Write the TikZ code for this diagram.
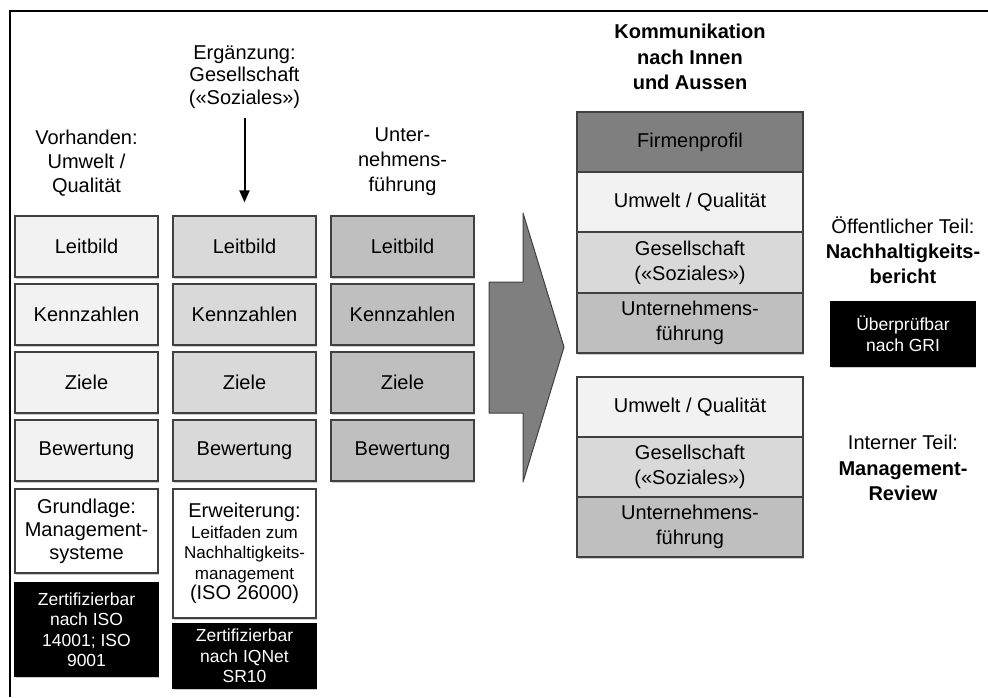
\documentclass[tikz,border=0pt]{standalone}
\usepackage{fontspec}
\setmainfont{Liberation Sans}
\usetikzlibrary{arrows.meta,shadows}

\definecolor{paleGray}{HTML}{F2F2F2}
\definecolor{midGray}{HTML}{D9D9D9}
\definecolor{darkGray}{HTML}{BFBFBF}
\definecolor{profGray}{HTML}{7F7F7F}
\definecolor{lineGray}{HTML}{404040}

\tikzset{
	box/.style={draw=lineGray, line width=1.2pt, minimum width=143pt, minimum height=61pt,
		inner sep=2pt, align=center, font=\fontsize{20}{23}\selectfont,
		drop shadow={shadow xshift=1pt, shadow yshift=-1.5pt, fill=black!50, opacity=.4}},
	layer/.style={box, minimum width=226pt, minimum height=60pt, font=\fontsize{20}{25}\selectfont},
	blackbox/.style={box, fill=black, draw=black, text=white, font=\fontsize{17.5}{20.5}\selectfont},
	head/.style={align=center, inner sep=2pt, font=\fontsize{20}{24}\selectfont},
}

\begin{document}
\begin{tikzpicture}[x=1pt,y=-1pt]
\useasboundingbox (0,0) rectangle (988,697);

% frame
\draw [line width=2.5pt] (10,697) -- (10,11) -- (988,11);

% headings
\node [head] (vorh) at (86.5,163) {Vorhanden:\\Umwelt /\\Qualität};
\node [head, font=\fontsize{20}{22.5}\selectfont] (erg) at (244.5,77) {Ergänzung:\\Gesellschaft\\(«Soziales»)};
\node [head, font=\fontsize{20}{25}\selectfont] (unt) at (402.5,162) {Unter-\\nehmens-\\führung};
\node [head, font=\bfseries\fontsize{20}{25.5}\selectfont] (komm) at (690,57) {Kommunikation\\nach Innen\\und Aussen};

% three columns
\foreach \cx/\col/\nm in {86.5/paleGray/a,244.5/midGray/b,402.5/darkGray/c} {
	\foreach \ry/\txt/\k in {246.5/Leitbild/1,314.5/Kennzahlen/2,382.5/Ziele/3,450.5/Bewertung/4} {
		\node [box, fill=\col] (\nm\k) at (\cx,\ry) {\txt};
	}
}

\node [box, fill=white, minimum height=84pt] (grund) at (86.5,531) {Grundlage:\\Management-\\systeme};
\node [blackbox, minimum height=93pt] (zertA) at (86.5,629.5) {Zertifizierbar\\nach ISO\\14001; ISO\\9001};
\node [box, fill=white, minimum height=129pt, font=\fontsize{20}{20.5}\selectfont] (erw) at (244.5,553.5)
	{Erweiterung:\\{\fontsize{17}{20.5}\selectfont Leitfaden zum}\\{\fontsize{17}{20.5}\selectfont Nachhaltigkeits-}\\{\fontsize{17}{20.5}\selectfont management}\\(ISO 26000)};
\node [blackbox, minimum height=64pt] (zertB) at (244.5,656) {Zertifizierbar\\nach IQNet\\SR10};

\draw [line width=2pt, -{Triangle[width=10pt,length=12pt]}, shorten <=7pt, shorten >=13pt] (erg) -- (b1);

% big arrow
\draw [fill=profGray, draw=lineGray, line width=1pt, line join=round]
	(489,282) -- (523,282) -- (523,213) -- (564,347) -- (523,482) -- (523,413) -- (489,413) -- cycle;

% public part
\node [layer, fill=profGray] (firm) at (690,142) {Firmenprofil};
\node [layer, fill=paleGray] (umwA) at (690,202) {Umwelt / Qualität};
\node [layer, fill=midGray] (gesA) at (690,262.5) {Gesellschaft\\(«Soziales»)};
\node [layer, fill=darkGray] (untA) at (690,323) {Unternehmens-\\führung};

% internal part
\node [layer, fill=paleGray] (umwB) at (690,407) {Umwelt / Qualität};
\node [layer, fill=midGray] (gesB) at (690,467) {Gesellschaft\\(«Soziales»)};
\node [layer, fill=darkGray] (untB) at (690,527) {Unternehmens-\\führung};

\node [head, font=\fontsize{20}{25}\selectfont] (oeff) at (903,250) {Öffentlicher Teil:\\\textbf{Nachhaltigkeits-}\\\textbf{bericht}};
\node [blackbox, minimum width=144pt, minimum height=64pt] (gri) at (903,334) {Überprüfbar\\nach GRI};
\node [head, font=\fontsize{20}{25.5}\selectfont] (intern) at (903,468) {Interner Teil:\\\textbf{Management-}\\\textbf{Review}};

\end{tikzpicture}
\end{document}
